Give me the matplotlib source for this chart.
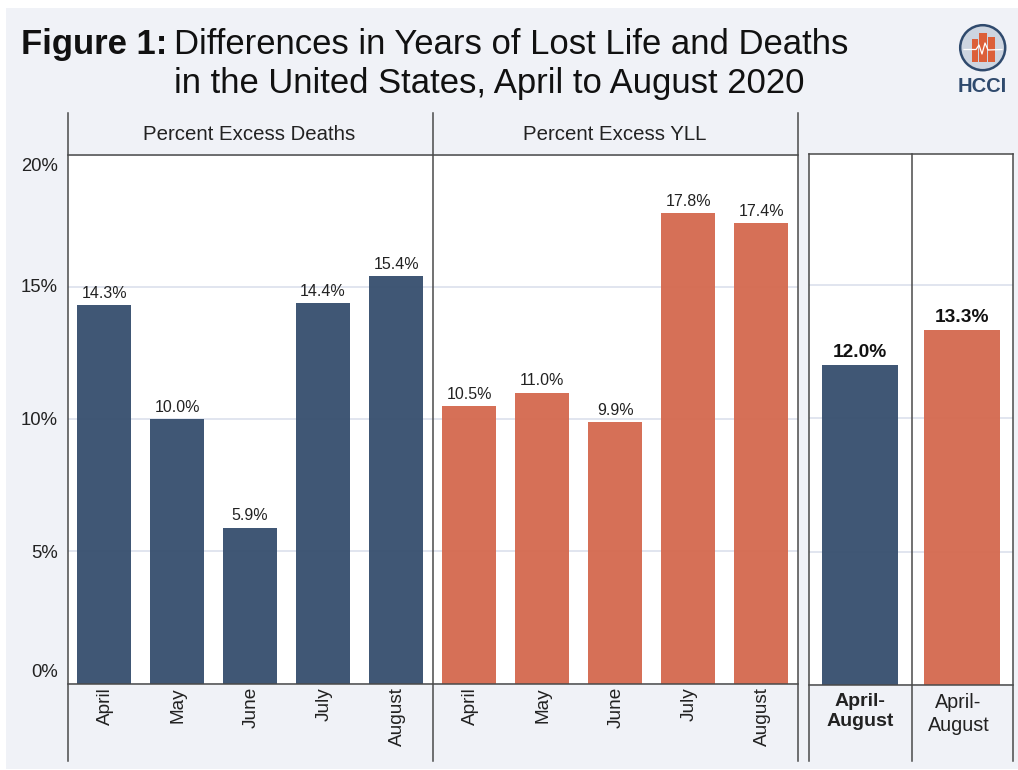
import matplotlib
matplotlib.use('Agg')
import matplotlib.pyplot as plt
from matplotlib.patches import Rectangle, Circle
from matplotlib.transforms import ScaledTranslation

plt.rcParams['font.family'] = ['Liberation Sans', 'DejaVu Sans']

months = ['April', 'May', 'June', 'July', 'August']
excess_deaths = [14.3, 10.0, 5.9, 14.4, 15.4]
excess_yll = [10.5, 11.0, 9.9, 17.8, 17.4]
total_labels = ['April-\nAugust', 'April-\nAugust']
total_values = [12.0, 13.3]
y_ticks = [0, 5, 10, 15, 20]

W, H = 1018, 770
NAVY = '#38506f'
ORANGE = '#d56a50'
BACK = '#f0f2f7'
GRID = '#d9deeb'
LINE = '#4a4a4a'
TEXT = '#222222'
BAR_ALPHA = 0.96
YMAX = 19.95


def make_axes(fig, x0, x1, y0=154.6, y1=683.6):
    ax = fig.add_axes([x0 / W, 1 - y1 / H, (x1 - x0) / W, (y1 - y0) / H])
    ax.set_facecolor('white')
    ax.set_ylim(0, YMAX)
    ax.set_yticks(y_ticks)
    ax.set_yticklabels([])
    ax.tick_params(length=0)
    ax.grid(axis='y', color=GRID, linewidth=1.1)
    ax.set_axisbelow(True)
    for s in ax.spines.values():
        s.set_visible(False)
    return ax


def month_panel(ax, values, color):
    bars = ax.bar(months, values, width=0.75, color=color, alpha=BAR_ALPHA)
    ax.set_xlim(-0.5, 4.5)
    ax.tick_params(axis='x', pad=2.5)
    plt.setp(ax.get_xticklabels(), rotation=90, fontsize=13.7, color=TEXT, va='top')
    for lab in ax.get_xticklabels():
        lab.set_transform(lab.get_transform() + ScaledTranslation(1.2 / 100, 0, fig.dpi_scale_trans))
    for b, v in zip(bars, values):
        ax.annotate(f'{v:.1f}%', (b.get_x() + b.get_width() / 2, v), xytext=(0, 3),
                    textcoords='offset points', ha='center', va='bottom',
                    fontsize=11.5, color=TEXT)


fig = plt.figure(figsize=(W / 100, H / 100), dpi=100, facecolor='white')

# pixel-space layer for the background, frame lines, title and logo
bg = fig.add_axes([0, 0, 1, 1], zorder=0)
bg.set_xlim(0, W)
bg.set_ylim(H, 0)
bg.axis('off')
bg.add_patch(Rectangle((6, 8), W - 6, H - 9, color=BACK, lw=0))

ax1 = make_axes(fig, 67.6, 432.6)
ax2 = make_axes(fig, 432.6, 797.6)
ax3 = make_axes(fig, 809, 1013, y0=153.5, y1=685)
ax3.set_ylim(0, (685 - 153.5) / 26.67)

month_panel(ax1, excess_deaths, NAVY)
month_panel(ax2, excess_yll, ORANGE)

# April-August totals
bars = ax3.bar([0, 1], total_values, width=0.75, color=[NAVY, ORANGE], alpha=BAR_ALPHA)
ax3.set_xlim(-0.5, 1.5)
ax3.set_xticks([0, 1])
ax3.set_xticklabels(total_labels, color=TEXT, linespacing=1.28)
ax3.tick_params(axis='x', pad=5.5)
bold_lab, plain_lab = ax3.get_xticklabels()
bold_lab.set_fontweight('bold')
bold_lab.set_fontsize(14)
plain_lab.set_fontsize(14.2)
plain_lab.set_transform(plain_lab.get_transform() + ScaledTranslation(-3.5 / 100, 0, fig.dpi_scale_trans))
for b, v in zip(bars, total_values):
    ax3.annotate(f'{v:.1f}%', (b.get_x() + b.get_width() / 2, v), xytext=(0, 3),
                 textcoords='offset points', ha='center', va='bottom',
                 fontsize=13.8, fontweight='bold', color='#111111')

# y labels, first and last nudged inside the plot range
nudges = {0: 7.8, 5: -1.2, 10: -1.2, 15: -0.8, 20: -8.4}
for t in y_ticks:
    ax1.annotate(f'{t}%', (0, t), xycoords=('axes fraction', 'data'),
                 xytext=(-7, nudges[t]), textcoords='offset points',
                 ha='right', va='center', fontsize=13.3, color=TEXT,
                 annotation_clip=False)

# frame lines over everything
over = fig.add_axes([0, 0, 1, 1], zorder=5)
over.set_xlim(0, W)
over.set_ylim(H, 0)
over.axis('off')
for x in (67.8, 432.8, 797.8):
    over.plot([x, x], [113, 761], color=LINE, lw=1.1)
for y in (154.8, 683.8):
    over.plot([67.8, 797.8], [y, y], color=LINE, lw=1.1)
for x in (809, 912, 1013):
    over.plot([x, x], [153.5, 761], color=LINE, lw=1.1)
for y in (153.5, 685):
    over.plot([809, 1013], [y, y], color=LINE, lw=1.1)

over.text(249.5, 134.5, 'Percent Excess Deaths', ha='center', va='center', fontsize=14.7, color=TEXT)
over.text(614.5, 134.5, 'Percent Excess YLL', ha='center', va='center', fontsize=14.7, color=TEXT)

over.text(21, 54, 'Figure 1:', fontsize=24.9, fontweight='bold', color='#111111', va='baseline')
over.text(174, 54, 'Differences in Years of Lost Life and Deaths', fontsize=24.9, color='#111111', va='baseline')
over.text(174, 93, 'in the United States, April to August 2020', fontsize=24.9, color='#111111', va='baseline')

# HCCI logo
over.add_patch(Circle((982.7, 47.7), 22.5, facecolor='#cdd5e0', edgecolor='#2f4a6d', lw=1.8))
for x0, top, w in [(972, 39, 6.5), (979, 33, 8), (988, 37, 7)]:
    over.add_patch(Rectangle((x0, top), w, 62 - top, facecolor='#dc5f38', lw=0))
over.plot([964, 976, 979, 982, 985, 988, 1002], [49.5, 49.5, 45, 54, 43, 50, 49.5], color='white', lw=0.9)
over.text(982.7, 86, 'HCCI', ha='center', va='center', fontsize=14.5, fontweight='bold', color='#2f4a6d')

fig.savefig('out.png', dpi=100)
